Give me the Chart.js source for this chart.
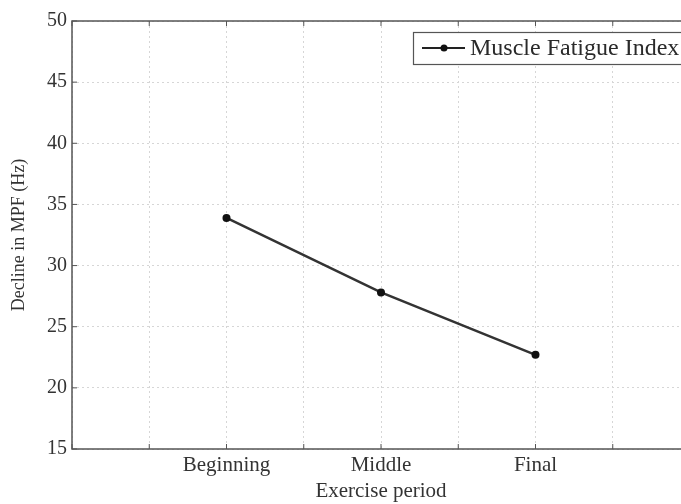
<!DOCTYPE html>
<html>
<head>
<meta charset="utf-8">
<script src="https://cdn.jsdelivr.net/npm/chart.js@4"></script>
<style>
  html, body { margin: 0; padding: 0; background: #fff; overflow: hidden; }
  #wrap { width: 700px; height: 504px; }
</style>
</head>
<body>
<div id="wrap"><canvas id="chart"></canvas></div>
<script>
const PERIODS = ['Beginning', 'Middle', 'Final'];
const PERIOD_POS = [2, 4, 6];
const MPF_DECLINE = [33.9, 27.8, 22.7];
const Y_TICKS = [15, 20, 25, 30, 35, 40, 45, 50];

const SERIF = '"Liberation Serif", "DejaVu Serif", serif';

// box round the axes with small inward ticks, MATLAB style
const axesBox = {
  id: 'axesBox',
  afterDatasetsDraw(chart) {
    const { ctx, chartArea: a, scales } = chart;
    ctx.save();
    ctx.strokeStyle = '#555';
    ctx.lineWidth = 1.5;
    ctx.strokeRect(a.left, a.top, a.right - a.left, a.bottom - a.top);
    ctx.lineWidth = 1;
    ctx.beginPath();
    scales.x.ticks.forEach(t => {
      const px = scales.x.getPixelForValue(t.value);
      ctx.moveTo(px, a.bottom); ctx.lineTo(px, a.bottom - 5);
      ctx.moveTo(px, a.top); ctx.lineTo(px, a.top + 5);
    });
    scales.y.ticks.forEach(t => {
      const py = scales.y.getPixelForValue(t.value);
      ctx.moveTo(a.left, py); ctx.lineTo(a.left + 5, py);
    });
    ctx.stroke();
    ctx.restore();
  }
};

// legend drawn inside the plot
const innerLegend = {
  id: 'innerLegend',
  afterDatasetsDraw(chart) {
    const ctx = chart.ctx;
    const ds = chart.data.datasets[0];
    const x = 413, y = 32, w = 300, h = 32;
    ctx.save();
    ctx.fillStyle = '#fff';
    ctx.fillRect(x, y, w, h);
    ctx.strokeStyle = '#555';
    ctx.lineWidth = 1.2;
    ctx.strokeRect(x + 0.5, y + 0.5, w, h);
    ctx.strokeStyle = '#222';
    ctx.lineWidth = 2;
    ctx.beginPath();
    ctx.moveTo(x + 9, y + 16);
    ctx.lineTo(x + 52, y + 16);
    ctx.stroke();
    ctx.fillStyle = '#111';
    ctx.beginPath();
    ctx.arc(x + 31, y + 16, 3.5, 0, Math.PI * 2);
    ctx.fill();
    ctx.font = '24px ' + SERIF;
    ctx.fillStyle = '#2a2a2a';
    ctx.textBaseline = 'middle';
    ctx.fillText(ds.label, x + 57, y + 17);
    ctx.restore();
  }
};

new Chart(document.getElementById('chart'), {
  type: 'line',
  data: {
    datasets: [{
      label: 'Muscle Fatigue Index',
      data: PERIOD_POS.map((p, i) => ({ x: p, y: MPF_DECLINE[i] })),
      borderColor: '#333',
      backgroundColor: '#111',
      borderWidth: 2.5,
      pointRadius: 4,
      pointBackgroundColor: '#111',
      pointBorderWidth: 0,
      tension: 0,
      fill: false,
    }]
  },
  options: {
    responsive: true,
    maintainAspectRatio: false,
    animation: false,
    layout: { padding: { top: 21, left: 8, right: 10, bottom: 0 } },
    plugins: {
      legend: { display: false },
      tooltip: { enabled: false }
    },
    scales: {
      x: {
        type: 'linear',
        min: 0,
        max: 8,
        afterFit: s => { s.height = 55; },
        grid: { color: '#d6d6d6', drawTicks: false },
        border: { display: false, dash: [2, 3] },
        ticks: {
          stepSize: 1,
          padding: 4,
          color: '#333',
          font: { family: SERIF, size: 21 },
          autoSkip: false,
          maxRotation: 0,
          callback: v => {
            const i = PERIOD_POS.indexOf(v);
            return i >= 0 ? PERIODS[i] : '';
          }
        },
        title: {
          display: true,
          text: 'Exercise period',
          color: '#333',
          padding: { top: 0, bottom: 0 },
          font: { family: SERIF, size: 21 }
        }
      },
      y: {
        min: 15,
        max: 50,
        afterBuildTicks: s => { s.ticks = Y_TICKS.map(v => ({ value: v })); },
        afterFit: s => { s.width = 64; },
        grid: { color: '#d6d6d6', drawTicks: false },
        border: { display: false, dash: [2, 3] },
        ticks: {
          padding: 5,
          color: '#333',
          font: { family: SERIF, size: 20 }
        },
        title: {
          display: true,
          text: 'Decline in MPF (Hz)',
          color: '#333',
          padding: { top: 0, bottom: 0 },
          font: { family: SERIF, size: 18 }
        }
      }
    }
  },
  plugins: [axesBox, innerLegend]
});
</script>
</body>
</html>
